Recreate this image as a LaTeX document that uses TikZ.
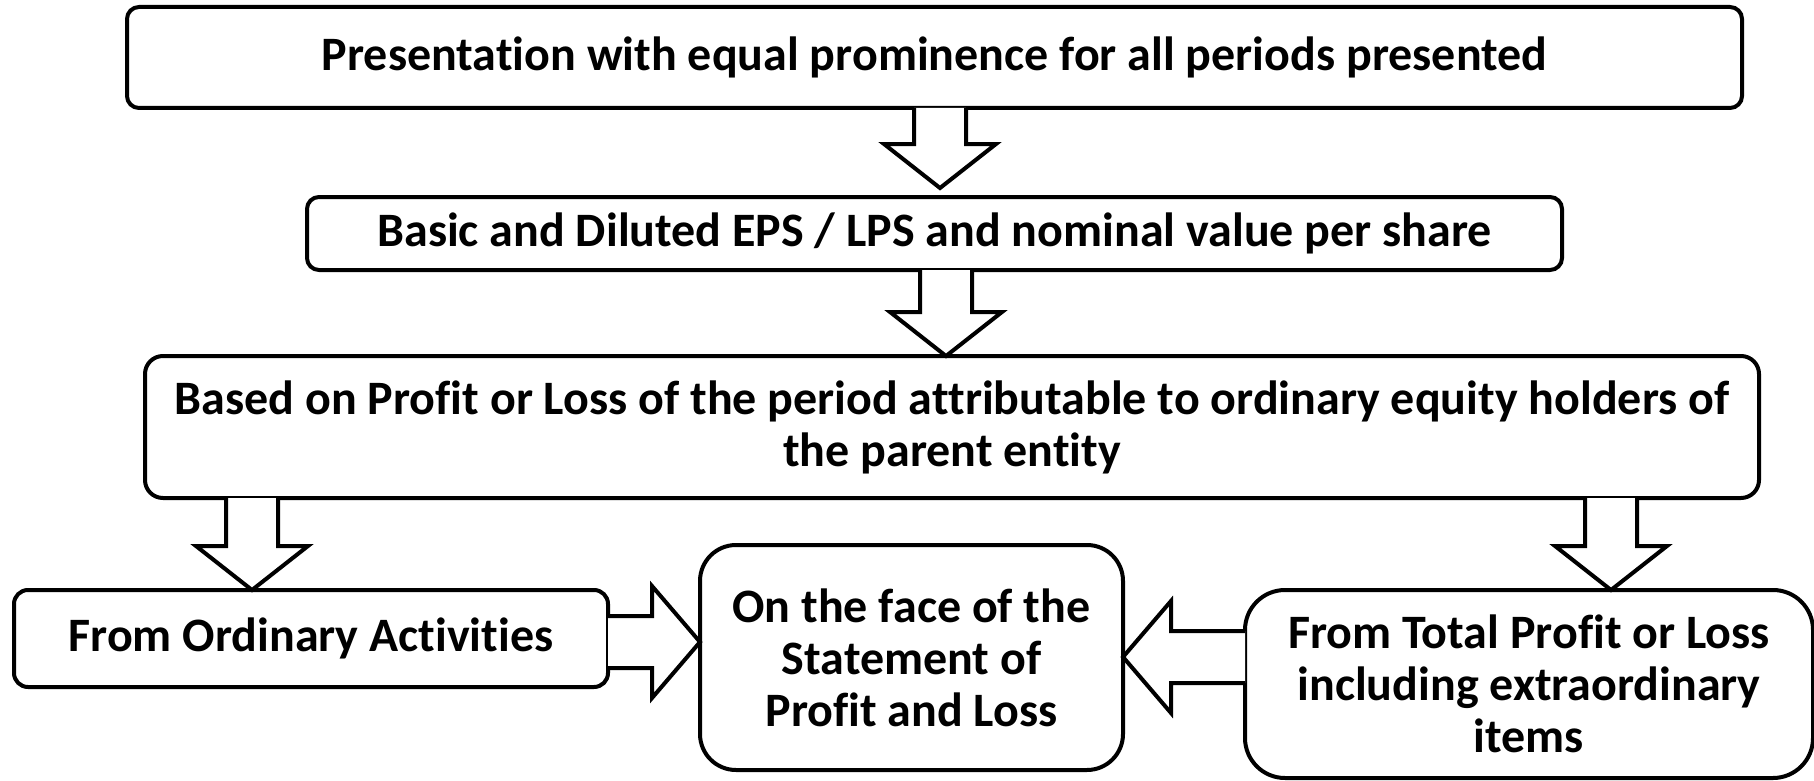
\documentclass[tikz,border=0pt]{standalone}
\usepackage{fontspec}
\setmainfont[Ligatures=NoCommon]{Carlito}
\usetikzlibrary{
    calc,
    positioning
}

\tikzset{
    infobox/.style={draw, line width=2pt, rounded corners=6pt, align=center, inner sep=0pt, outer sep=0pt,
        font=\bfseries\fontsize{24pt}{26pt}\selectfont},
    blockarrow/.style={draw, line width=2pt, fill=white, line join=miter}
}
% block arrows: #1 = start on the box border, #2 = tip
\newcommand{\blockdown}[2]{%
    \draw[blockarrow] ($(#1)+(-26,0)$) -- ($(#2)+(-26,-44)$) -- ($(#2)+(-56,-44)$) -- (#2)
        -- ($(#2)+(56,-44)$) -- ($(#2)+(26,-44)$) -- ($(#1)+(26,0)$);}
\newcommand{\blockside}[3]{% #3 = 1 to the right, -1 to the left
    \draw[blockarrow] ($(#1)+(0,-26)$) -- ($(#2)+({-48*(#3)},-26)$) -- ($(#2)+({-48*(#3)},-56)$) -- (#2)
        -- ($(#2)+({-48*(#3)},56)$) -- ($(#2)+({-48*(#3)},26)$) -- ($(#1)+(0,26)$);}

\begin{document}
\begin{tikzpicture}[x=0.5pt, y=-0.5pt]
    \useasboundingbox (0, 0) rectangle (1814, 781);

    \node[infobox, minimum width=807.5pt, minimum height=50.5pt] (present) at (934.5, 57.5)
        {Presentation with equal prominence for all periods presented};
    \node[infobox, minimum width=627.5pt, minimum height=36.5pt] (basic) at (934.5, 233.5)
        {Basic and Diluted EPS / LPS and nominal value per share};
    \node[infobox, minimum width=807pt, minimum height=71pt, rounded corners=9pt] (based) at (952, 427)
        {Based on Profit or Loss of the period attributable to ordinary equity holders of\\the parent entity};
    \node[infobox, minimum width=297pt, minimum height=48.5pt, rounded corners=7pt] (ordinary) at (311, 638.5)
        {From Ordinary Activities};
    \node[infobox, minimum width=211.5pt, minimum height=112.5pt, rounded corners=18pt] (face) at (911.5, 657.5)
        {On the face of the\\Statement of\\Profit and Loss};
    \node[infobox, minimum width=284pt, minimum height=94pt, rounded corners=20pt] (total) at (1529, 684)
        {From Total Profit or Loss\\including extraordinary\\items};

    \coordinate (tipbasic) at ($(basic.north -| 940,0)+(0,-9)$);
    \blockdown{present.south -| tipbasic}{tipbasic}
    \blockdown{basic.south -| 946,0}{based.north -| 946,0}
    \blockdown{based.south -| 252,0}{ordinary.north -| 252,0}
    \blockdown{based.south -| 1611,0}{total.north -| 1611,0}
    \blockside{ordinary.east |- 0,642}{face.west |- 0,642}{1}
    \blockside{total.west |- 0,657}{face.east |- 0,657}{-1}
\end{tikzpicture}
\end{document}
